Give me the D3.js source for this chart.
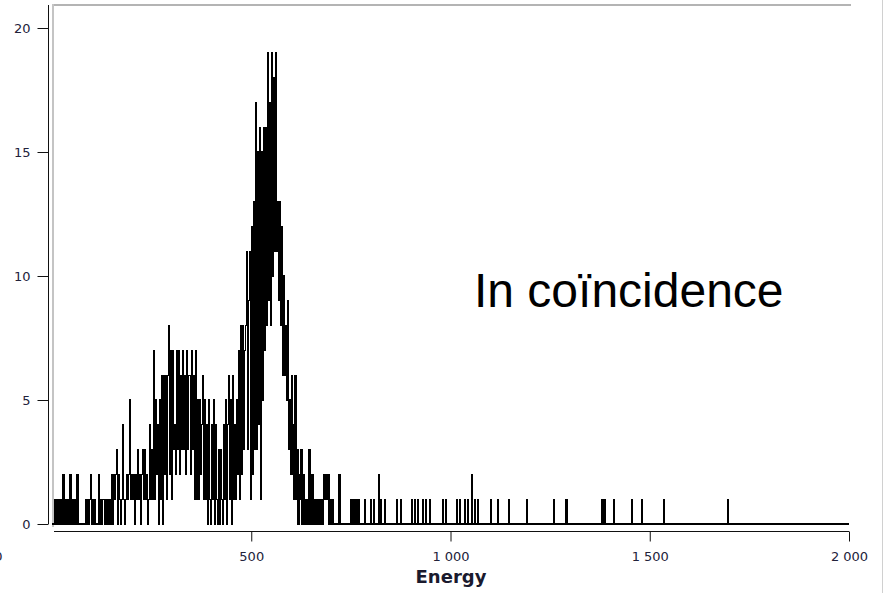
<!DOCTYPE html>
<html lang="en">
<head>
<meta charset="UTF-8">
<title>In coïncidence</title>
<script src="https://cdn.jsdelivr.net/npm/d3@7"></script>
<style>
  body { margin: 0; background: #fff; }
  svg { display: block; }
  .tick text { font-family: "DejaVu Sans", sans-serif; font-size: 13px; fill: #22223a; }
  .tick line, .domain { stroke: #111; }
</style>
</head>
<body>
<svg id="chart" width="883" height="593"></svg>
<script>
// spectrum: counts per 2.5-energy bin (0 .. ~722)
const binWidth = 2.5;
const mainCounts = [
  0,0,0, 1,0,1,0,1,0,1,0, 2, 0,1,0,1,0,1, 2, 0,1,0,1,1,0, 2,
  0,0,0,0,0,0,0,0, 1,0,1,0,1, 2, 0,1,0,1,0,0,0, 2,
  0,1,0,1,1,0,1,0,1,0,1,0, 2,0,2,1,2,3,0,2,1, 0,1,4,1,0,1,
  2,1,2,5,1,2,1,2,0,2,1, 3, 1,2,0,2, 3,1,3, 1,2,0, 1,4,1,3,1, 7,
  1,5,2,4,0,5,1, 6,0,6,2, 6,1,6, 8, 2,7,1,7, 3,4,2, 7, 3,7,2,6,3,
  7,3,6,2,7,3,6,6,2,7,3,6,1,7,1, 5,1,5,2,4, 6,
  1,5,1,4,0,5,1,0,4,1,5,0,4,1, 0,3,0,3,1, 0,4,1,5,0,4, 6,1,5,0,6,1,
  4,1,5,2, 7, 1,8, 2,8,3,7, 8, 11, 3,9, 11, 1,12,2,13,
  3,17,3,15,4,16,1,15,5,16,7,16,8,19,9,17,8,19,10,18,11,19,11,13,9,13,8,12,6,10,6,8,5,9,
  3,5,2,6,2,4,1,6,1,3,0,2,1,3,0,2,0,
  1,0,1,0,3,1,0,2,0,1,0,1,0,1,1,0,1,0,1,2,1,2,1,2,0,1,0,1,0,0,0,0,0,0,2,0
];
// isolated events in the high-energy tail
const tailEnergy = [750, 755, 760, 765, 771, 784, 799, 807, 819, 826, 834, 864, 874, 902, 910, 917,
  929, 937, 947, 980, 987, 1015, 1022, 1035, 1042, 1052, 1060, 1067, 1100, 1118, 1145, 1191,
  1258, 1291, 1381, 1386, 1411, 1454, 1479, 1534, 1695];
const tailCount = [1, 1, 1, 1, 1, 1, 1, 1, 2, 1, 1, 1, 1, 1, 1, 1,
  1, 1, 1, 1, 1, 1, 1, 1, 1, 2, 1, 1, 1, 1, 1, 1,
  1, 1, 1, 1, 1, 1, 1, 1, 1];
const yMajorTicks = [0, 5, 10, 15, 20];
const yMinorTicks = d3.range(0, 21);
const xMajorTicks = [0, 500, 1000, 1500, 2000];
const xMinorTicks = d3.range(0, 2001, 100);
const xTitle = "Energy";
const note = "In coïncidence";

const svg = d3.select("#chart");
const x = d3.scaleLinear().domain([0, 2000]).range([52, 849]);
const y = d3.scaleLinear().domain([0, 20]).range([524, 28]);
const fmt = d3.formatLocale({ decimal: ",", thousands: "\u00a0", grouping: [3], currency: ["", ""] }).format(",d");

// build bins
const counts = new Array(2000 / binWidth + 1).fill(0);
mainCounts.forEach((c, i) => counts[i] = c);
tailEnergy.forEach((e, k) => counts[Math.round(e / binWidth)] = tailCount[k]);
const bins = counts.map((c, i) => ({ e: i * binWidth, c: c }));

// frame
svg.append("line").attr("x1", 52).attr("x2", 851).attr("y1", 5).attr("y2", 5)
  .attr("stroke", "#b4b4b4").attr("stroke-width", 2);
svg.append("line").attr("x1", 53).attr("x2", 53).attr("y1", 4).attr("y2", 527)
  .attr("stroke", "#c4c4c4").attr("stroke-width", 2);
svg.append("line").attr("x1", 882.5).attr("x2", 882.5).attr("y1", 0).attr("y2", 593)
  .attr("stroke", "#d0d0d0").attr("stroke-width", 1);

// histogram as step line
const line = d3.line().x(d => x(d.e)).y(d => y(d.c)).curve(d3.curveStepAfter);
svg.append("path").datum(bins)
  .attr("d", line)
  .attr("fill", "none")
  .attr("stroke", "#000")
  .attr("stroke-width", 1.2)
  .attr("shape-rendering", "crispEdges");

// y axis
const gy = svg.append("g").attr("transform", "translate(48.5,0)");
gy.call(d3.axisLeft(y).tickValues(yMinorTicks).tickSize(5).tickFormat(""));
gy.call(d3.axisLeft(y).tickValues(yMajorTicks).tickSize(11).tickPadding(7).tickFormat(d3.format("d")));
gy.selectAll(".domain").remove();
gy.append("line").attr("y1", 5).attr("y2", 524).attr("stroke", "#111");

// x axis
const gx = svg.append("g").attr("transform", "translate(0,531.5)");
gx.call(d3.axisBottom(x).tickValues(xMinorTicks).tickSize(5).tickFormat("").tickSizeOuter(0));
gx.call(d3.axisBottom(x).tickValues(xMajorTicks).tickSize(10).tickPadding(10).tickSizeOuter(0).tickFormat(fmt));
gx.select(".domain").attr("d", `M${x(0) + 2},0H${x(2000)}`);
gx.selectAll(".tick").filter(d => d === 0).select("text").attr("x", -54);
gx.selectAll(".tick").filter(d => d === 0).select("line").remove();

svg.append("text")
  .attr("x", 451).attr("y", 583)
  .attr("text-anchor", "middle")
  .attr("font-family", "DejaVu Sans, sans-serif")
  .attr("font-weight", "bold")
  .attr("font-size", 18)
  .attr("fill", "#1a1a2e")
  .text(xTitle);

svg.append("text")
  .attr("x", 474).attr("y", 307)
  .attr("font-family", "Liberation Sans, Arial, sans-serif")
  .attr("font-size", 48)
  .attr("fill", "#000")
  .text(note);
</script>
</body>
</html>
